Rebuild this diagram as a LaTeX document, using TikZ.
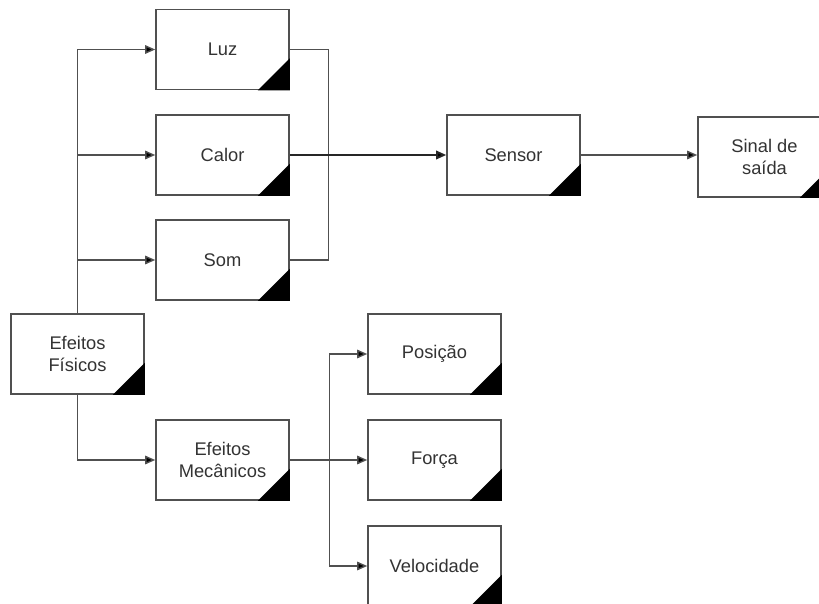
\documentclass[tikz,border=0pt]{standalone}
\usepackage{fontspec}
\setmainfont{Liberation Sans}
\usetikzlibrary{arrows.meta}
\definecolor{ln}{HTML}{505050}
\definecolor{tx}{HTML}{333333}
\tikzset{
  blk/.style={draw=ln, line width=1.6pt, fill=white, minimum width=133pt, minimum height=80pt,
    inner sep=0pt, align=center, text=tx, font=\fontsize{18.3}{22.5}\selectfont},
  conn/.style={draw=ln, line width=1.4pt},
  arr/.style={conn, -{Triangle[length=10pt,width=8.5pt,fill=black]}},
}
\begin{document}
\begin{tikzpicture}[x=1pt,y=-1pt]
\useasboundingbox (0,0) rectangle (819,604);
\clip (0,0) rectangle (819,604);
\fill[white] (0,0) rectangle (819,604);
\node[blk] (luz) at (222.5,49.5) {Luz};
\node[blk] (calor) at (222.5,155) {Calor};
\node[blk] (som) at (222.5,260) {Som};
\node[blk] (fis) at (77.5,354) {Efeitos\\Físicos};
\node[blk] (sensor) at (513.5,155) {Sensor};
\node[blk] (sinal) at (764.5,157) {Sinal de\\saída};
\node[blk] (mec) at (222.5,460) {Efeitos\\Mecânicos};
\node[blk] (pos) at (434.5,354) {Posição};
\node[blk] (forca) at (434.5,460) {Força};
\node[blk] (vel) at (434.5,566) {Velocidade};
\foreach \n in {luz,calor,som,fis,sensor,sinal,mec,pos,forca,vel}{
  \fill[black] (\n.south east) -- ++(-32,0) -- ++(32,-32) -- cycle;
}
\coordinate (bus) at (328.5,155);
\coordinate (mbus) at (329.5,460);
\draw[arr] (fis.north) |- (luz.west);
\draw[arr] (fis.north) |- (calor.west);
\draw[arr] (fis.north) |- (som.west);
\draw[arr] (fis.south) |- (mec.west);
\draw[conn] (luz.east) -| (bus) |- (som.east);
\draw[arr, line width=1.8pt, draw=black!85] (calor.east) -- (sensor.west);
\draw[arr] (sensor.east) -- (sensor.east -| sinal.west);
\draw[arr] (mec.east) -- (forca.west);
\draw[arr] (mbus) |- (pos.west);
\draw[arr] (mbus) |- (vel.west);
\end{tikzpicture}
\end{document}
